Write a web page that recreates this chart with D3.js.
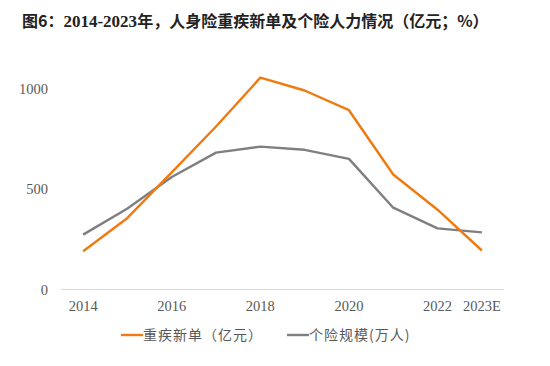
<!DOCTYPE html>
<html><head><meta charset="utf-8">
<script src="https://cdn.jsdelivr.net/npm/d3@7"></script>
<style>body{margin:0;background:#fff}</style>
</head><body>
<svg id="c" width="550" height="366"></svg>
<script>
const years = ["2014","2015","2016","2017","2018","2019","2020","2021","2022","2023E"];
const xTickLabels = ["2014","2016","2018","2020","2022","2023E"];
const ciNewSales = [190, 356, 583, 811, 1054, 990, 892, 572, 397, 194];
const agentSize = [273, 403, 560, 681, 711, 695, 650, 407, 304, 284];
const yTicks = [0, 500, 1000];
const seriesNames = ["重疾新单（亿元）", "个险规模(万人)"];
const colors = ["#F07A10", "#7F7F7F"];

const svg = d3.select("#c");
const serif = "'Liberation Serif','DejaVu Serif',serif";
const cjk = "'Noto Sans CJK SC','Noto Sans',sans-serif";

const title = svg.append("text").attr("x", 22).attr("y", 27)
  .attr("font-family", cjk).attr("font-size", 16).attr("font-weight", "bold").attr("fill", "#222");
title.append("tspan").text("图6：");
title.append("tspan").attr("font-family", serif).attr("font-size", 17).text("2014-2023");
title.append("tspan").text("年，人身险重疾新单及个险人力情况（亿元；%）");

const x = d3.scaleBand().domain(years).range([61, 504]);
const y = d3.scaleLinear().domain([0, 1000]).range([289.5, 88.5]);
const cx = d => x(d) + x.bandwidth() / 2;

svg.append("line").attr("x1", 61).attr("x2", 504).attr("y1", 289.5).attr("y2", 289.5)
  .attr("stroke", "#d9d9d9").attr("stroke-width", 1);

svg.selectAll(".yt").data(yTicks).enter().append("text")
  .attr("x", 48).attr("y", d => y(d) + 5).attr("text-anchor", "end")
  .attr("font-family", serif).attr("font-size", 14.5).attr("fill", "#595959").text(d => d);

svg.selectAll(".xt").data(xTickLabels).enter().append("text")
  .attr("x", d => cx(d)).attr("y", 311).attr("text-anchor", "middle")
  .attr("font-family", serif).attr("font-size", 14.5).attr("fill", "#595959").text(d => d);

const line = d3.line().x((d, i) => cx(years[i])).y(d => y(d));
[agentSize, ciNewSales].forEach((s, k) => {
  svg.append("path").datum(s).attr("d", line).attr("fill", "none")
    .attr("stroke", k === 0 ? colors[1] : colors[0]).attr("stroke-width", 2.4)
    .attr("stroke-linejoin", "round");
});

const legendX = [121, 287];
seriesNames.forEach((n, i) => {
  svg.append("line").attr("x1", legendX[i]).attr("x2", legendX[i] + 22)
    .attr("y1", 335).attr("y2", 335).attr("stroke", colors[i]).attr("stroke-width", 2.4);
  svg.append("text").attr("x", legendX[i] + 22).attr("y", 340)
    .attr("font-family", cjk).attr("font-size", 14).attr("letter-spacing", 1)
    .attr("fill", "#595959").text(n);
});
</script>
</body></html>
